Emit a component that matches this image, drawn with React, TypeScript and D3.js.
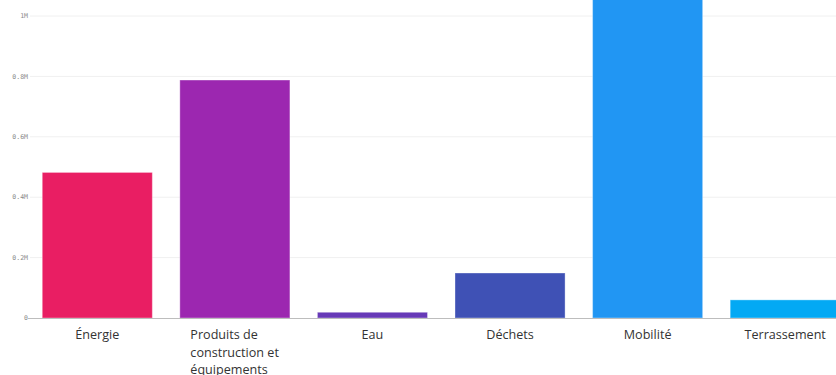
import React, { useEffect, useRef } from "react";
import * as d3 from "d3";

const categories = ["Énergie", "Produits de construction et équipements", "Eau", "Déchets", "Mobilité", "Terrassement"];
const labelLines = [["Énergie"], ["Produits de", "construction et", "équipements"], ["Eau"], ["Déchets"], ["Mobilité"], ["Terrassement"]];
const values = [482000, 788000, 19000, 149000, 1150000, 60000];
const colors = ["#E91E63", "#9C27B0", "#673AB7", "#3F51B5", "#2196F3", "#03A9F4"];
const yTicks = [0, 200000, 400000, 600000, 800000, 1000000];
const yTickLabels = ["0", "0.2M", "0.4M", "0.6M", "0.8M", "1M"];

const W = 836;
const H = 375;

export default function App() {
  const ref = useRef<SVGSVGElement>(null);
  useEffect(() => {
    const svg = d3.select(ref.current);
    svg.selectAll("*").remove();
    const x = d3.scaleBand<string>().domain(categories).range([28.5, 854]).paddingInner(0.2).paddingOuter(0.1);
    const y = d3.scaleLinear().domain([0, 1000000]).range([318, 16]);

    // grid
    svg.append("g").selectAll("line").data(yTicks.slice(1)).join("line")
      .attr("x1", 30).attr("x2", W).attr("y1", d => y(d)).attr("y2", d => y(d))
      .attr("stroke", "#f0f0f0").attr("stroke-width", 1);

    // tick labels
    svg.append("g").selectAll("text").data(yTicks).join("text")
      .attr("x", 28).attr("y", d => y(d)).attr("dy", "0.35em")
      .attr("text-anchor", "end")
      .attr("font-family", "'DejaVu Sans Mono', monospace").attr("font-size", 6.5)
      .attr("fill", "#8a8a8a")
      .text((d, i) => yTickLabels[i]);

    // bars
    svg.append("g").selectAll("rect").data(values).join("rect")
      .attr("x", (d, i) => x(categories[i])!)
      .attr("width", x.bandwidth())
      .attr("y", d => y(d))
      .attr("height", d => y(0) - y(d))
      .attr("fill", (d, i) => colors[i])
      .attr("stroke", "#fff").attr("stroke-opacity", 0.35).attr("stroke-width", 1);

    // axis line
    svg.append("line").attr("x1", 28).attr("x2", W).attr("y1", y(0) + 0.5).attr("y2", y(0) + 0.5)
      .attr("stroke", "#bdbdbd").attr("stroke-width", 1.2);

    // category labels
    const lg = svg.append("g").attr("font-family", "'Open Sans', sans-serif").attr("font-size", 12.6).attr("fill", "#333");
    labelLines.forEach((lines, i) => {
      const cx = x(categories[i])! + x.bandwidth() / 2;
      const t = lg.append("text").attr("y", 339);
      lines.forEach((ln, j) => {
        t.append("tspan").attr("x", cx).attr("dy", j === 0 ? 0 : 17.5).text(ln);
      });
      if (lines.length > 1) {
        const node = t.node() as SVGTextElement;
        const bw = node.getBBox().width;
        t.selectAll("tspan").attr("x", cx - bw / 2);
      } else {
        t.attr("text-anchor", "middle");
      }
    });
  }, []);
  return (
    <svg ref={ref} width={W} height={H} style={{ position: "fixed", left: 0, top: 0, background: "#fff" }} />
  );
}
